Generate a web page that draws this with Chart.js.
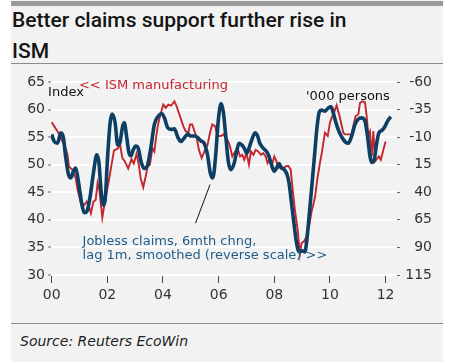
<!DOCTYPE html>
<html>
<head>
<meta charset="utf-8">
<script src="https://cdn.jsdelivr.net/npm/chart.js@4.4.1/dist/chart.umd.min.js"></script>
<style>
    body { margin: 0; background: #fff; }
    #panel { position: absolute; left: 11px; top: 0; width: 432px; height: 362px; background: #f2f2f2; }
    #topbar { position: absolute; left: 0; top: 1px; width: 432px; height: 5px; background: #9a9a9a; }
    #title { position: absolute; left: 1px; top: 5px; font: 500 21px Roboto, sans-serif; line-height: 31px; color: #151515; }
    .rule { position: absolute; left: 0; width: 432px; height: 1px; background: #8a8a8a; }
    #source { position: absolute; left: 9px; top: 333px; font: italic 14px 'DejaVu Sans', sans-serif; color: #222; }
    #wrap { position: absolute; left: 0; top: 0; width: 449px; height: 362px; }
</style>
</head>
<body>
<div id="panel">
    <div id="topbar"></div>
    <div id="title">Better claims support further rise in<br>ISM</div>
    <div class="rule" style="top:63px"></div>
    <div class="rule" style="top:323px"></div>
    <div id="source">Source: Reuters EcoWin</div>
</div>
<div id="wrap"><canvas id="ismChart" width="449" height="362"></canvas></div>
<script>
// ISM manufacturing index (left axis), monthly readings as decimal years
const ismDates = [
    2000.00, 2000.24, 2000.36, 2000.50, 2000.57, 2000.62, 2000.74, 2000.86, 2000.93,
    2001.05, 2001.17, 2001.26, 2001.34, 2001.41, 2001.50, 2001.58, 2001.65, 2001.71, 2001.82, 2001.92,
    2002.04, 2002.16, 2002.24, 2002.37, 2002.46, 2002.54, 2002.63, 2002.75, 2002.87, 2002.95,
    2003.05, 2003.13, 2003.20, 2003.29, 2003.38, 2003.45, 2003.53, 2003.62, 2003.69, 2003.74, 2003.81, 2003.89,
    2004.01, 2004.10, 2004.19, 2004.29, 2004.41, 2004.49, 2004.61, 2004.73, 2004.81, 2004.91, 2004.97,
    2005.05, 2005.15, 2005.21, 2005.29, 2005.39, 2005.51, 2005.60, 2005.69, 2005.77, 2005.87, 2005.96,
    2006.08, 2006.17, 2006.26, 2006.34, 2006.41, 2006.49, 2006.59, 2006.68, 2006.77, 2006.85, 2006.92,
    2007.00, 2007.09, 2007.16, 2007.25, 2007.33, 2007.42, 2007.52, 2007.60, 2007.69, 2007.76, 2007.84, 2007.90,
    2008.00, 2008.08, 2008.14, 2008.24, 2008.32, 2008.41, 2008.50, 2008.59, 2008.66, 2008.74, 2008.84, 2008.92, 2008.98,
    2009.07, 2009.16, 2009.25, 2009.34, 2009.46, 2009.55, 2009.64, 2009.72, 2009.82, 2009.92,
    2010.00, 2010.06, 2010.15, 2010.24, 2010.36, 2010.48, 2010.54, 2010.66, 2010.78, 2010.84, 2010.92,
    2011.02, 2011.08, 2011.16, 2011.26, 2011.32, 2011.38, 2011.44, 2011.50, 2011.56, 2011.62, 2011.68, 2011.76, 2011.83, 2011.92,
    2012.00
];
const ismValues = [
    57.7, 55.8, 54.5, 53.0, 51.8, 49.7, 49.1, 47.6, 45.5,
    43.0, 42.7, 43.3, 42.5, 41.2, 43.3, 43.6, 46.7, 45.5, 40.4, 43.6,
    46.7, 50.3, 52.6, 52.9, 53.6, 51.2, 50.6, 49.3, 51.0, 50.2,
    52.0, 50.0, 47.5, 45.9, 47.9, 49.7, 50.0, 53.0, 52.4, 54.5, 57.0, 58.8,
    60.9, 60.3, 60.9, 60.7, 61.5, 60.6, 58.8, 57.0, 56.1, 55.8, 57.3,
    57.3, 55.8, 54.9, 52.7, 51.2, 52.7, 53.6, 55.8, 57.3, 57.0, 55.2,
    55.2, 55.5, 54.8, 54.3, 53.3, 51.5, 52.4, 53.0, 51.5, 51.8, 50.9,
    52.1, 50.0, 52.4, 51.8, 52.7, 52.4, 51.8, 52.1, 51.5, 50.3, 51.2, 49.7,
    51.5, 50.6, 49.4, 49.7, 49.4, 49.7, 49.8, 49.1, 45.5, 41.8, 38.2, 33.8, 35.8,
    36.1, 37.0, 38.8, 41.5, 44.0, 47.5, 50.3, 52.5, 55.8, 55.2,
    57.6, 58.5, 59.5, 60.8, 58.5, 55.8, 55.5, 55.5, 55.5, 57.0, 58.8,
    59.1, 61.2, 61.5, 61.3, 58.8, 55.2, 56.0, 51.5, 56.1, 50.6, 51.0, 51.5, 50.9, 52.7,
    54.2
];

// Jobless claims, 6mth change in '000 persons, lagged 1m and smoothed (right axis, reversed)
const claimsDates = [
    2000.00, 2000.09, 2000.21, 2000.33, 2000.42, 2000.50, 2000.60, 2000.69, 2000.78, 2000.86, 2000.93,
    2001.02, 2001.10, 2001.17, 2001.27, 2001.38, 2001.50, 2001.62, 2001.70, 2001.77, 2001.86, 2001.92,
    2002.01, 2002.10, 2002.17, 2002.28, 2002.37, 2002.45, 2002.55, 2002.61, 2002.69, 2002.78, 2002.85, 2002.93,
    2003.02, 2003.11, 2003.21, 2003.33, 2003.45, 2003.57, 2003.69, 2003.83, 2003.95,
    2004.05, 2004.17, 2004.29, 2004.41, 2004.53, 2004.65, 2004.77, 2004.89,
    2005.01, 2005.13, 2005.25, 2005.37, 2005.48, 2005.60, 2005.70, 2005.79, 2005.89, 2005.99,
    2006.09, 2006.17, 2006.26, 2006.35, 2006.44, 2006.56, 2006.65, 2006.73, 2006.83, 2006.92,
    2007.01, 2007.09, 2007.19, 2007.31, 2007.40, 2007.48, 2007.60, 2007.72, 2007.81, 2007.90,
    2008.00, 2008.08, 2008.17, 2008.26, 2008.36, 2008.46, 2008.53, 2008.62, 2008.72, 2008.80, 2008.89,
    2009.01, 2009.10, 2009.17, 2009.25, 2009.32, 2009.39, 2009.46, 2009.54, 2009.62, 2009.70, 2009.82, 2009.94,
    2010.04, 2010.12, 2010.20, 2010.32, 2010.44, 2010.56, 2010.66, 2010.78, 2010.90,
    2011.02, 2011.14, 2011.26, 2011.35, 2011.44, 2011.50, 2011.59, 2011.68, 2011.76, 2011.86, 2011.95,
    2012.04, 2012.12, 2012.19
];
const claimsValues = [
    -12.5, -6, -4.5, -14, -9.5, 7.5, 23.5, 27, 21, 18, 25.5,
    40.5, 53, 58.5, 57, 44, 22.5, 6, 13.5, 37.5, 51.5, 47,
    7.5, -23, -31, -23, -3, -5, -20, -23, -11, 4.5, 7, 1.5,
    -2, 0, 12, 18.5, 15, -1.5, -21.5, -29, -31.5,
    -27.5, -18.5, -17, -17.5, -10, -6, -9.5, -12.5,
    -11, -11, -9.5, -6.5, -4.5, 6, 22.5, 27, 7.5, -26,
    -40.5, -32.5, -10, 12.5, 19.5, 13.5, 3, -4.5, -3, 0,
    4.5, 0, -7.5, -14, -11, -4.5, 0, 3, 7.5, 15,
    21, 18, 14, 18, 19.5, 24, 31.5, 50, 71, 86, 94,
    93, 94, 83, 62, 42.5, 22.5, 2.5, -20, -33, -34.5, -33.5, -36.5,
    -37.5, -32, -24.5, -15.5, -9.5, -5.5, -4.5, -11, -21.5,
    -26.5, -27.5, -24.5, -11, 7.5, 13, 10.5, -4.5, -14, -16, -18.5,
    -23, -26.5, -28.5
];

const yearTicks = [2000, 2002, 2004, 2006, 2008, 2010, 2012];
const yearLabels = ['00', '02', '04', '06', '08', '10', '12'];

const RED = '#c4262e';
const NAVY = '#0c3f63';
const TEXT_BLUE = '#1f5c89';

document.addEventListener('DOMContentLoaded', () => {
    const ctx = document.getElementById('ismChart').getContext('2d');

    const toPoints = (xs, ys) => xs.map((x, i) => ({ x: x, y: ys[i] }));

    // Labels that live inside the plot, anchored in data units
    const notes = [
        { text: 'Index', t: 1999.87, v: 62.55, color: '#111' },
        { text: '<< ISM manufacturing', t: 2000.98, v: 63.8, color: RED },
        { text: "'000 persons", t: 2009.14, v: 61.8, color: '#111' },
        { text: 'Jobless claims, 6mth chng,', t: 2001.11, v: 35.45, color: TEXT_BLUE },
        { text: 'lag 1m, smoothed (reverse scale) >>', t: 2001.11, v: 32.9, color: TEXT_BLUE }
    ];
    const pointer = { from: [2005.69, 46.4], to: [2005.17, 39.4] };

    const notesPlugin = {
        id: 'notes',
        afterDatasetsDraw(chart) {
            const c = chart.ctx;
            const xs = chart.scales.x;
            const ys = chart.scales.y;
            c.save();
            c.strokeStyle = '#111';
            c.lineWidth = 1;
            c.beginPath();
            c.moveTo(xs.getPixelForValue(pointer.from[0]), ys.getPixelForValue(pointer.from[1]));
            c.lineTo(xs.getPixelForValue(pointer.to[0]), ys.getPixelForValue(pointer.to[1]));
            c.stroke();
            c.font = "13px 'DejaVu Sans'";
            c.textBaseline = 'alphabetic';
            c.textAlign = 'left';
            notes.forEach(n => {
                c.fillStyle = n.color;
                c.fillText(n.text, xs.getPixelForValue(n.t), ys.getPixelForValue(n.v));
            });
            c.restore();
        }
    };

    const tickFont = { family: "'DejaVu Sans', sans-serif", size: 14 };

    new Chart(ctx, {
        type: 'line',
        data: {
            datasets: [
                {
                    label: 'Jobless claims',
                    data: toPoints(claimsDates, claimsValues),
                    yAxisID: 'y2',
                    borderColor: NAVY,
                    borderWidth: 3.6,
                    cubicInterpolationMode: 'monotone',
                    pointRadius: 0,
                    fill: false
                },
                {
                    label: 'ISM manufacturing',
                    data: toPoints(ismDates, ismValues),
                    yAxisID: 'y',
                    borderColor: RED,
                    borderWidth: 1.9,
                    tension: 0,
                    pointRadius: 0,
                    fill: false
                }
            ]
        },
        options: {
            responsive: false,
            animation: false,
            devicePixelRatio: 1,
            layout: { padding: { left: 11, right: 17, top: 82, bottom: 57 } },
            plugins: {
                legend: { display: false },
                tooltip: { enabled: false }
            },
            scales: {
                x: {
                    type: 'linear',
                    min: 1999.975,
                    max: 2012.41,
                    afterBuildTicks: (scale) => {
                        scale.ticks = yearTicks.map(v => ({ value: v }));
                    },
                    afterFit: (scale) => { scale.height = 30; },
                    grid: { drawOnChartArea: false, tickColor: '#444', tickLength: 8, tickWidth: 1 },
                    border: { display: false },
                    ticks: {
                        color: '#333',
                        font: tickFont,
                        padding: 4,
                        maxRotation: 0,
                        callback: (value) => yearLabels[yearTicks.indexOf(value)]
                    }
                },
                y: {
                    position: 'left',
                    min: 30,
                    max: 65,
                    afterFit: (scale) => { scale.width = 40; },
                    grid: { color: '#ffffff', lineWidth: 2, tickColor: '#666', tickLength: 3, tickWidth: 1 },
                    border: { display: false },
                    ticks: { stepSize: 5, color: '#333', font: tickFont, padding: 3 }
                },
                y2: {
                    position: 'right',
                    reverse: true,
                    min: -60,
                    max: 115,
                    afterFit: (scale) => { scale.width = 35; },
                    grid: { drawOnChartArea: false, tickColor: '#666', tickLength: 3, tickWidth: 1 },
                    border: { display: false },
                    ticks: { stepSize: 25, color: '#333', font: tickFont, padding: 3, crossAlign: 'far' }
                }
            }
        },
        plugins: [notesPlugin]
    });
});
</script>
</body>
</html>
